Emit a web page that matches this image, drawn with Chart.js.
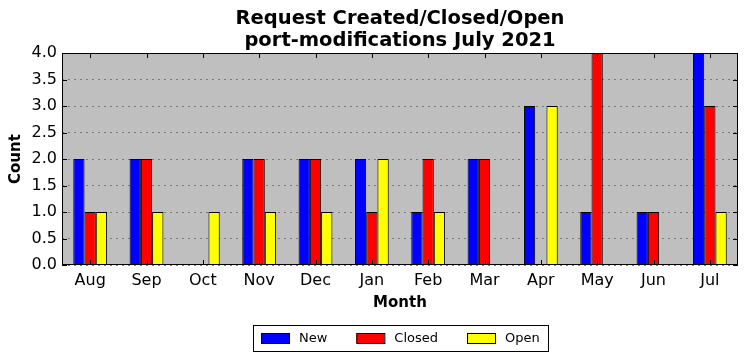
<!DOCTYPE html>
<html><head><meta charset="utf-8">
<script src="https://cdn.jsdelivr.net/npm/chart.js@4"></script>
<style>html,body{margin:0;padding:0;background:#fff}#wrap{width:747px;height:361px}</style>
</head><body><div id="wrap"><canvas id="c" width="747" height="361"></canvas></div>
<script>
const months = ["Aug","Sep","Oct","Nov","Dec","Jan","Feb","Mar","Apr","May","Jun","Jul"];
const newCounts = [2,2,0,2,2,2,1,2,3,1,1,4];
const closedCounts = [1,2,0,2,2,1,2,2,0,4,1,3];
const openCounts = [1,1,1,1,1,2,1,0,3,0,0,1];
const seriesNames = ["New","Closed","Open"];
const seriesColors = ["#0000ff","#ff0000","#ffff00"];
const titleLines = ["Request Created/Closed/Open","port-modifications July 2021"];

const FONT = "'DejaVu Sans', sans-serif";
const framePlugin = {
  id: 'frame',
  beforeDraw(chart) {
    const {ctx, chartArea: a} = chart;
    ctx.save();
    ctx.fillStyle = '#bfbfbf';
    ctx.fillRect(a.left, a.top, a.right - a.left, a.bottom - a.top);
    ctx.restore();
  },
  afterDatasetsDraw(chart) {
    const {ctx, chartArea: a, scales} = chart;
    ctx.save();
    ctx.strokeStyle = '#000';
    ctx.lineWidth = 1;
    ctx.beginPath();
    const tl = 5;
    scales.x.ticks.forEach((t, i) => {
      const x = Math.round(scales.x.getPixelForTick(i)) + 0.5;
      ctx.moveTo(x, a.bottom); ctx.lineTo(x, a.bottom - tl);
      ctx.moveTo(x, a.top); ctx.lineTo(x, a.top + tl);
    });
    scales.y.ticks.forEach((t, i) => {
      const y = Math.round(scales.y.getPixelForTick(i)) + 0.5;
      ctx.moveTo(a.left, y); ctx.lineTo(a.left + tl, y);
      ctx.moveTo(a.right, y); ctx.lineTo(a.right - tl, y);
    });
    ctx.stroke();
    ctx.strokeRect(Math.round(a.left) + 0.5, Math.round(a.top) + 0.5, Math.round(a.right - a.left) - 1, Math.round(a.bottom - a.top) - 1);

    // legend (below the plot, centred on the plot area)
    const ds = chart.data.datasets;
    ctx.font = "13px " + FONT;
    const boxW = 28, boxH = 10, gapText = 10, gapItem = 29, pad = 8;
    const widths = ds.map(d => boxW + gapText + ctx.measureText(d.label).width);
    const total = widths.reduce((s, w) => s + w, 0) + gapItem * (ds.length - 1) + pad * 2;
    const cx = (a.left + a.right) / 2;
    const fl = Math.round(cx - total / 2), ft = 325, fh = 26;
    ctx.fillStyle = '#fff';
    ctx.fillRect(fl, ft, Math.round(total), fh);
    ctx.strokeStyle = '#000';
    ctx.strokeRect(fl + 0.5, ft + 0.5, Math.round(total), fh);
    let x = fl + pad;
    const cy = ft + fh / 2;
    ds.forEach((d, i) => {
      ctx.fillStyle = d.backgroundColor;
      ctx.fillRect(x, cy - boxH / 2, boxW, boxH);
      ctx.strokeRect(x + 0.5, cy - boxH / 2 + 0.5, boxW, boxH);
      ctx.fillStyle = '#000';
      ctx.textBaseline = 'middle';
      ctx.textAlign = 'left';
      ctx.fillText(d.label, x + boxW + gapText, cy + 1);
      x += widths[i] + gapItem;
    });
    ctx.restore();
  }
};

new Chart(document.getElementById('c'), {
  type: 'bar',
  data: {
    labels: months,
    datasets: [
      {label: seriesNames[0], data: newCounts, backgroundColor: seriesColors[0], borderColor: '#000', borderWidth: 1},
      {label: seriesNames[1], data: closedCounts, backgroundColor: seriesColors[1], borderColor: '#000', borderWidth: 1},
      {label: seriesNames[2], data: openCounts, backgroundColor: seriesColors[2], borderColor: '#000', borderWidth: 1}
    ]
  },
  plugins: [framePlugin],
  options: {
    responsive: false,
    animation: false,
    devicePixelRatio: 1,
    layout: {padding: {left: 0, right: 9, top: 0, bottom: 46}},
    datasets: {bar: {categoryPercentage: 0.6, barPercentage: 1.0}},
    plugins: {
      title: {display: true, text: titleLines, color: '#000', fullSize: false,
        font: {family: FONT, size: 19.5, weight: 'bold', lineHeight: 1.13},
        padding: {top: 8, bottom: 1}},
      legend: {display: false},
      tooltip: {enabled: false}
    },
    scales: {
      x: {
        grid: {display: false, drawTicks: false},
        border: {display: false},
        ticks: {color: '#000', font: {family: FONT, size: 16}, padding: 6, maxRotation: 0},
        title: {display: true, text: 'Month', color: '#000', font: {family: FONT, size: 15, weight: 'bold'}, padding: {top: 4, bottom: 3}},
        afterFit(s) { s.height = 50; }
      },
      y: {
        min: 0, max: 4,
        grid: {color: '#7a7a7a', lineWidth: 1, drawTicks: false},
        border: {display: false, dash: [2,4]},
        ticks: {stepSize: 0.5, color: '#000', font: {family: FONT, size: 16}, padding: 5,
          callback: v => Number(v).toFixed(1)},
        title: {display: true, text: 'Count', color: '#000', font: {family: FONT, size: 15, weight: 'bold'}, padding: {top: 7, bottom: 4}},
        afterFit(s) { s.width = 62; }
      }
    }
  }
});
</script></body></html>
